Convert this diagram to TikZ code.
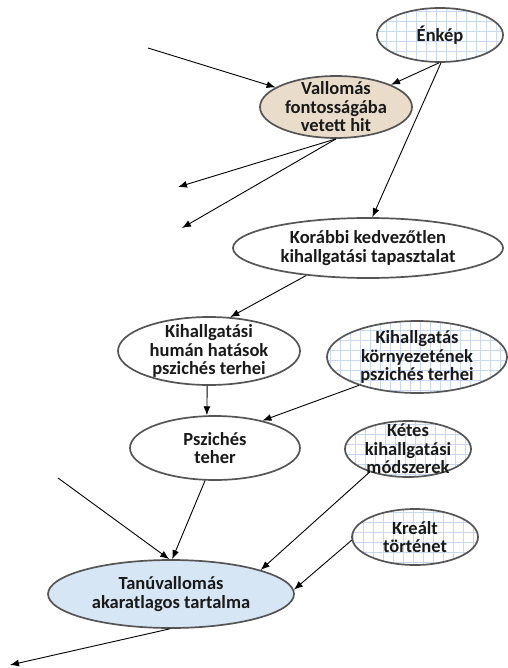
\documentclass[tikz,border=0pt]{standalone}
\usepackage{fontspec}
\setmainfont{Carlito}
\usetikzlibrary{shapes.geometric, arrows.meta}
\definecolor{bordergray}{HTML}{555555}
\definecolor{beige}{HTML}{EADCCB}
\definecolor{paleblue}{HTML}{D7E6F5}
\definecolor{gridblue}{HTML}{C9D8F2}
\tikzset{
    bubble/.style={draw=bordergray, ellipse, inner sep=-30pt, align=center, fill=white, line width=1.7pt, font=\bfseries\fontsize{18.5}{18.5}\selectfont, text=black!90},
    gridbubble/.style={bubble, path picture={\draw[gridblue, line width=0.6pt] ([shift={(-3pt,-3pt)}]path picture bounding box.south west) grid[step=10pt] (path picture bounding box.north east);}},
    arrow/.style={-{Latex[length=9pt, width=7pt]}, line width=0.9pt, draw=black}
}
\begin{document}
\begin{tikzpicture}[x=1pt, y=-1pt]
        \useasboundingbox (0,0) rectangle (507,668);

        % -----------------------------------------------------------------
        % CSOMOPONTOK
        % -----------------------------------------------------------------
        \node[gridbubble, minimum width=126pt, minimum height=54pt] (enkep) at (440,35) {Énkép};
        \node[bubble, fill=beige, minimum width=152pt, minimum height=62pt] (hit) at (336,107) {Vallomás\\fontosságába\\vetett hit};
        \node[bubble, minimum width=270pt, minimum height=60pt] (tapasztalat) at (368,248) {Korábbi kedvezőtlen\\kihallgatási tapasztalat};
        \node[bubble, minimum width=182pt, minimum height=68pt] (human) at (209,351) {Kihallgatási\\humán hatások\\pszichés terhei};
        \node[gridbubble, minimum width=180pt, minimum height=72pt] (kornyezet) at (417,357) {Kihallgatás\\környezetének\\pszichés terhei};
        \node[bubble, minimum width=170pt, minimum height=64pt] (teher) at (215,448) {Pszichés\\teher};
        \node[gridbubble, minimum width=126pt, minimum height=56pt] (modszer) at (408,449) {Kétes\\kihallgatási\\módszerek};
        \node[gridbubble, minimum width=126pt, minimum height=56pt] (tortenet) at (415,537) {Kreált\\történet};
        \node[bubble, fill=paleblue, minimum width=246pt, minimum height=68pt] (tartalom) at (171,594) {Tanúvallomás\\akaratlagos tartalma};

        % szabad végpontok
        \coordinate (inHit) at (148,48);
        \coordinate (outHitA) at (178,187);
        \coordinate (outHitB) at (182,228);
        \coordinate (inTartalom) at (58,478);
        \coordinate (outTartalom) at (10,665);

        % -----------------------------------------------------------------
        % NYILAK
        % -----------------------------------------------------------------
        \draw[arrow] (inHit) -- (hit.162);
        \draw[arrow] (enkep.268) -- (hit.22);
        \draw[arrow] (enkep.272) -- (tapasztalat.82);
        \draw[arrow] (hit.270) -- (outHitA);
        \draw[arrow] (hit.270) -- (outHitB);
        \draw[arrow] (tapasztalat.204) -- (human.58);
        \draw[arrow] (human.267) -- (teher.104);
        \draw[arrow] (kornyezet.206) -- (teher.30);
        \draw[arrow] (teher.253) -- (tartalom.88);
        \draw[arrow] (inTartalom) -- (tartalom.93);
        \draw[arrow] (modszer.211) -- (tartalom.15);
        \draw[arrow] (tortenet.183) -- (tartalom.2);
        \draw[arrow] (tartalom.268) -- (outTartalom);

    \end{tikzpicture}
\end{document}
